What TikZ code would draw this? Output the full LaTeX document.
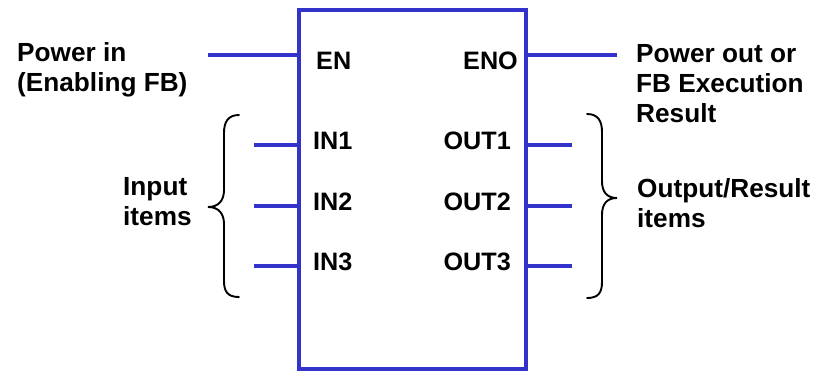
\documentclass[tikz,border=0pt]{standalone}
\usepackage{fontspec}
\setmainfont{Liberation Sans}
\definecolor{fbblue}{RGB}{51,51,204}
\begin{document}
\begin{tikzpicture}[x=1pt,y=-1pt,
  wire/.style={draw=fbblue,line width=4pt},
  lbl/.style={inner sep=0pt,font=\fontsize{25.2}{30}\selectfont\bfseries,align=left},
  outlbl/.style={lbl,font=\fontsize{26.2}{30}\selectfont\bfseries},
  brace/.style={draw=black,line width=1.9pt,line cap=round}]
\useasboundingbox (0,0) rectangle (816,371);
% function block
\node[wire,rectangle,inner sep=0pt,minimum width=226.5pt,minimum height=359pt] (fb) at (412.25,189.5) {};
% free ends
\coordinate (pin) at (208,55);
\coordinate (pout) at (617,55);
\coordinate (i1) at (254,145);
\coordinate (i2) at (254,206);
\coordinate (i3) at (254,266);
\coordinate (o1) at (572,145);
\coordinate (o2) at (572,206);
\coordinate (o3) at (572,266);
\draw[wire] (pin) -- (pin -| fb.west);
\draw[wire] (pout) -- (pout -| fb.east);
\foreach \p in {i1,i2,i3} \draw[wire] (\p) -- (\p -| fb.west);
\foreach \p in {o1,o2,o3} \draw[wire] (\p) -- (\p -| fb.east);
% pin labels
\node[lbl,anchor=base west] (en) at (316,70) {EN};
\node[lbl,anchor=base east] (eno) at (518,70) {ENO};
\node[lbl,anchor=base west] (in1) at (313,150) {IN1};
\node[lbl,anchor=base west] (in2) at (313,211) {IN2};
\node[lbl,anchor=base west] (in3) at (313,271) {IN3};
\node[lbl,anchor=base east] (out1) at (511,150) {OUT1};
\node[lbl,anchor=base east] (out2) at (511,211) {OUT2};
\node[lbl,anchor=base east] (out3) at (511,271) {OUT3};
% outside labels (base = last line)
\node[outlbl,anchor=base west] (powin) at (17,92) {Power in\\(Enabling FB)};
\node[outlbl,anchor=base west] (powout) at (636,123) {Power out or\\FB Execution\\Result};
\node[outlbl,anchor=base west] (inp) at (123,226) {Input\\items};
\node[outlbl,anchor=base west] (outp) at (637,228) {Output/Result\\items};
% braces
\draw[brace] (239,115) .. controls (228,115) and (224,122) .. (224,133) -- (224,190)
  .. controls (224,200) and (219,207) .. (208,207)
  .. controls (219,207) and (224,214) .. (224,224) -- (224,281)
  .. controls (224,292) and (228,297) .. (239,297);
\draw[brace] (587,114) .. controls (598,114) and (602,121) .. (602,132) -- (602,181)
  .. controls (602,191) and (606,198) .. (617,198)
  .. controls (606,198) and (602,205) .. (602,215) -- (602,282)
  .. controls (602,293) and (598,298) .. (587,298);
\end{tikzpicture}
\end{document}
